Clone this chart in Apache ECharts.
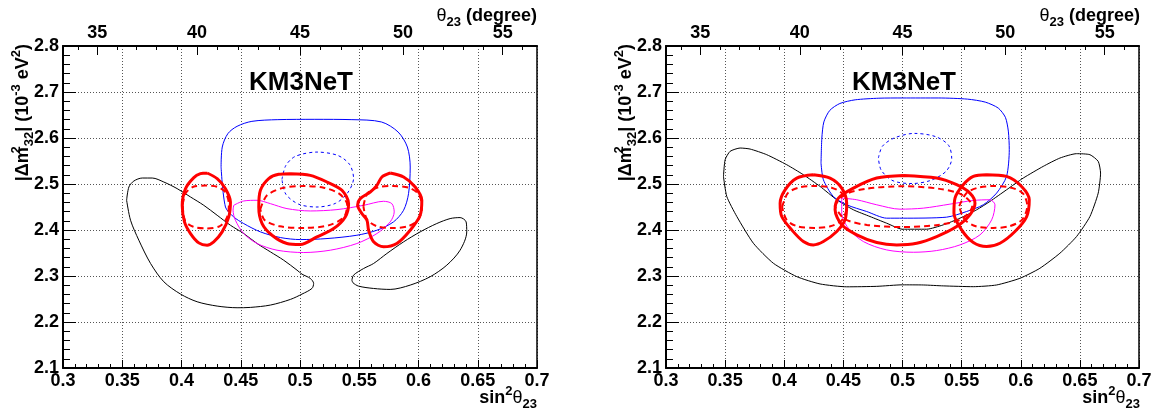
<!DOCTYPE html>
<html><head><meta charset="utf-8">
<script src="https://cdn.jsdelivr.net/npm/echarts@6/dist/echarts.min.js"></script>
<style>html,body{margin:0;padding:0;background:#fff}#c{width:1157px;height:412px}</style>
</head><body><div id="c"></div>
<script>
// ---- axis / tick data ----
const xRange = [0.3, 0.7];
const yRange = [2.1, 2.8];
const thetaMajor = [35, 40, 45, 50, 55];
const thetaMinor = [34, 36, 37, 38, 39, 41, 42, 43, 44, 46, 47, 48, 49, 51, 52, 53, 54, 56];
const panelTitle = 'KM3NeT';

// ---- left panel contours [sin^2 theta23, |dm2_32|] ----
const L_black1 = [[0.3537,2.4646],[0.3556,2.4935],[0.3598,2.5065],[0.3669,2.513],[0.3753,2.513],[0.3851,2.5043],[0.3963,2.49],[0.4076,2.4718],[0.4188,2.4537],[0.4301,2.432],[0.4413,2.4103],[0.4525,2.3923],[0.4638,2.3706],[0.475,2.3525],[0.4862,2.3344],[0.4975,2.3127],[0.5017,2.304],[0.5087,2.2947],[0.5115,2.2838],[0.5101,2.273],[0.5017,2.2607],[0.4919,2.2491],[0.475,2.2368],[0.4581,2.2317],[0.4469,2.231],[0.4301,2.2346],[0.4132,2.244],[0.3992,2.2607],[0.3851,2.2874],[0.3739,2.3272],[0.364,2.3778],[0.357,2.4212]];
const L_black2 = [[0.5438,2.291],[0.5452,2.3019],[0.5537,2.3163],[0.5621,2.3272],[0.5733,2.3489],[0.5874,2.3742],[0.6014,2.3959],[0.6154,2.414],[0.6267,2.4248],[0.6351,2.427],[0.6402,2.4176],[0.6407,2.3959],[0.6351,2.3561],[0.6239,2.3236],[0.6098,2.2983],[0.593,2.2802],[0.5761,2.2708],[0.5621,2.2729],[0.5494,2.278],[0.5447,2.2853]];
const L_blue = [[0.4334,2.537],[0.4344,2.5804],[0.4391,2.6094],[0.4469,2.6254],[0.4594,2.6362],[0.4813,2.6399],[0.5125,2.6406],[0.5438,2.6399],[0.5688,2.6348],[0.5828,2.613],[0.5906,2.5804],[0.593,2.5369],[0.5916,2.479],[0.5874,2.4429],[0.5789,2.4176],[0.5649,2.3995],[0.548,2.3886],[0.5228,2.3814],[0.5003,2.3792],[0.4834,2.3836],[0.4666,2.3959],[0.4525,2.414],[0.4441,2.4284],[0.4371,2.45]];
const L_blueDash = [[0.4848,2.510],[0.4880,2.540],[0.4960,2.560],[0.5143,2.5694],[0.5320,2.562],[0.5420,2.542],[0.5452,2.512],[0.5400,2.480],[0.5300,2.458],[0.5143,2.450],[0.4990,2.456],[0.4880,2.478]];
const L_magenta = [[0.4441,2.4537],[0.4525,2.4631],[0.4638,2.4646],[0.475,2.4573],[0.489,2.4465],[0.5087,2.4414],[0.5312,2.4443],[0.5537,2.4537],[0.5705,2.4624],[0.5775,2.4573],[0.5795,2.4393],[0.5761,2.4176],[0.5649,2.3923],[0.548,2.3706],[0.5256,2.3561],[0.5031,2.351],[0.4806,2.3561],[0.4638,2.3706],[0.4525,2.3923],[0.4455,2.4212],[0.4435,2.443]];
const L_red1 = [[0.4216,2.5239],[0.4301,2.5116],[0.4371,2.4899],[0.4413,2.461],[0.4399,2.4284],[0.4343,2.3959],[0.4272,2.3742],[0.4216,2.367],[0.4146,2.372],[0.4076,2.3923],[0.4025,2.4176],[0.4006,2.4537],[0.4034,2.4899],[0.4104,2.5138],[0.416,2.5224]];
const L_red2 = [[0.4919,2.5224],[0.5087,2.5188],[0.5228,2.5043],[0.5354,2.4863],[0.541,2.4573],[0.5382,2.4284],[0.5284,2.4031],[0.5143,2.385],[0.5003,2.3684],[0.489,2.3706],[0.4764,2.3886],[0.468,2.414],[0.4652,2.4501],[0.4666,2.4863],[0.4736,2.5116],[0.482,2.521]];
const L_red3 = [[0.5761,2.5239],[0.5874,2.5152],[0.5972,2.4935],[0.6028,2.4646],[0.6014,2.432],[0.593,2.3995],[0.5817,2.3706],[0.5705,2.3634],[0.5621,2.3742],[0.5579,2.3995],[0.5565,2.4212],[0.5522,2.4357],[0.5486,2.4537],[0.5508,2.4682],[0.5593,2.4826],[0.5649,2.4971],[0.5691,2.5152]];
const L_redDash1 = [[0.4010,2.455],[0.4035,2.480],[0.4100,2.494],[0.4200,2.4965],[0.4300,2.494],[0.4370,2.482],[0.4400,2.455],[0.4380,2.425],[0.4320,2.408],[0.4210,2.4035],[0.4100,2.407],[0.4030,2.420]];
const L_redDash2 = [[0.4665,2.445],[0.4720,2.475],[0.4850,2.491],[0.5030,2.4955],[0.5200,2.492],[0.5330,2.479],[0.5398,2.455],[0.5370,2.428],[0.5240,2.410],[0.5030,2.4045],[0.4830,2.408],[0.4700,2.422]];
const L_redDash3 = [[0.5535,2.452],[0.5570,2.480],[0.5660,2.493],[0.5785,2.4955],[0.5920,2.492],[0.6000,2.478],[0.6030,2.452],[0.6000,2.423],[0.5910,2.408],[0.5785,2.4045],[0.5650,2.408],[0.5565,2.423]];

// ---- right panel contours ----
const R_black = [[0.3486,2.5165],[0.35,2.5528],[0.3542,2.571],[0.3627,2.5782],[0.3711,2.576],[0.3852,2.5637],[0.4021,2.5419],[0.4162,2.5201],[0.4303,2.4947],[0.4444,2.4657],[0.4585,2.4439],[0.4725,2.4293],[0.4866,2.4148],[0.4999,2.4017],[0.5204,2.4017],[0.5345,2.4112],[0.5486,2.4257],[0.5627,2.4439],[0.5739,2.462],[0.588,2.4874],[0.6021,2.5129],[0.619,2.5383],[0.6331,2.5564],[0.6472,2.5659],[0.6585,2.5637],[0.6655,2.5492],[0.6675,2.5238],[0.6655,2.4802],[0.6585,2.4293],[0.6472,2.3858],[0.6331,2.3495],[0.6162,2.3168],[0.5993,2.295],[0.5796,2.2805],[0.5599,2.2768],[0.5345,2.2785],[0.5176,2.2805],[0.4999,2.2808],[0.4782,2.2775],[0.4528,2.2765],[0.4303,2.2827],[0.4106,2.2986],[0.3908,2.3277],[0.3739,2.3712],[0.3599,2.4293],[0.3514,2.4729]];
const R_blue = [[0.4311,2.5455],[0.4318,2.600],[0.4335,2.635],[0.4385,2.660],[0.4470,2.675],[0.4600,2.683],[0.4800,2.6865],[0.5000,2.687],[0.5307,2.687],[0.5550,2.6845],[0.5700,2.678],[0.5810,2.665],[0.5870,2.645],[0.5895,2.615],[0.5903,2.575],[0.5880,2.5165],[0.5796,2.4802],[0.5683,2.4548],[0.5542,2.4402],[0.5373,2.4279],[0.5007,2.4257],[0.4866,2.4257],[0.4697,2.4402],[0.4528,2.4548],[0.4415,2.4729],[0.4331,2.5092]];
const R_blueDash = [[0.4796,2.5564],[0.4830,2.582],[0.4930,2.600],[0.5100,2.6100],[0.5280,2.603],[0.5390,2.584],[0.5416,2.5555],[0.5370,2.528],[0.5240,2.508],[0.5080,2.501],[0.4920,2.507],[0.4820,2.530]];
const R_magenta = [[0.4486,2.4693],[0.4613,2.4657],[0.4782,2.4548],[0.4979,2.4453],[0.5176,2.4475],[0.5401,2.4562],[0.5599,2.4642],[0.5739,2.4657],[0.5782,2.4548],[0.5754,2.4221],[0.5655,2.3894],[0.5486,2.3676],[0.5289,2.3553],[0.5092,2.3516],[0.4866,2.3567],[0.4669,2.3749],[0.4542,2.4039],[0.4486,2.4366]];
const R_red1 = [[0.4246,2.5201],[0.4387,2.5129],[0.4486,2.4911],[0.4528,2.4584],[0.4514,2.4221],[0.4444,2.3967],[0.4331,2.3749],[0.4246,2.3676],[0.4162,2.3749],[0.4063,2.4003],[0.3979,2.4293],[0.3965,2.4584],[0.4007,2.4874],[0.4106,2.5129]];
const R_red2 = [[0.5007,2.5187],[0.5289,2.5129],[0.5458,2.4984],[0.557,2.4802],[0.5613,2.4584],[0.557,2.433],[0.5458,2.4075],[0.5289,2.3858],[0.512,2.3712],[0.4951,2.3676],[0.4782,2.3727],[0.4613,2.3894],[0.4486,2.4112],[0.443,2.4439],[0.4458,2.4693],[0.4585,2.4911],[0.4782,2.5129]];
const R_red3 = [[0.5711,2.5201],[0.588,2.5165],[0.6007,2.4947],[0.6072,2.4657],[0.605,2.4293],[0.5951,2.3967],[0.5824,2.3712],[0.5711,2.364],[0.5599,2.3727],[0.55,2.4003],[0.5435,2.4366],[0.5444,2.4693],[0.5514,2.4984],[0.5599,2.5165]];
const R_redDash1 = [[0.3982,2.450],[0.4030,2.480],[0.4120,2.492],[0.4255,2.4955],[0.4400,2.492],[0.4490,2.479],[0.4530,2.452],[0.4490,2.422],[0.4390,2.408],[0.4255,2.4045],[0.4110,2.408],[0.4020,2.422]];
const R_redDash2 = [[0.4425,2.452],[0.4510,2.477],[0.4700,2.490],[0.5005,2.495],[0.5300,2.490],[0.5500,2.477],[0.5590,2.452],[0.5500,2.424],[0.5300,2.411],[0.5005,2.4065],[0.4700,2.411],[0.4510,2.424]];
const R_redDash3 = [[0.5480,2.452],[0.5540,2.480],[0.5640,2.492],[0.5765,2.4955],[0.5920,2.492],[0.6020,2.479],[0.6055,2.452],[0.6010,2.422],[0.5900,2.408],[0.5765,2.4045],[0.5620,2.408],[0.5520,2.424]];

const FONT = 'Liberation Sans, Arial, Helvetica, sans-serif';
const s2 = d => Math.pow(Math.sin(d * Math.PI / 180), 2);
const toDeg = v => Math.round(Math.asin(Math.sqrt(v)) * 180 / Math.PI);

const grids = [
  {left: 63, top: 46, width: 474, height: 322},
  {left: 666, top: 46, width: 473, height: 322}
];

const xAxes = [], yAxes = [];
grids.forEach((g, gi) => {
  xAxes.push({
    type: 'value', gridIndex: gi, position: 'bottom', min: xRange[0], max: xRange[1], interval: 0.05,
    axisLine: {show: true, onZero: false, lineStyle: {color: '#000', width: 2}},
    axisTick: {show: true, inside: true, length: 8, lineStyle: {color: '#000', width: 1}},
    minorTick: {show: true, splitNumber: 5, length: 4, lineStyle: {color: '#000', width: 1}},
    axisLabel: {show: true, interval: 0, showMinLabel: true, showMaxLabel: true, margin: 4,
      fontSize: 18, fontWeight: 'bold', fontFamily: FONT, color: '#000',
      formatter: v => String(+v.toFixed(2))},
    splitLine: {show: true, lineStyle: {color: '#555', width: 1, type: [1, 2]}}
  });
  xAxes.push({
    type: 'value', gridIndex: gi, position: 'top', min: xRange[0], max: xRange[1],
    axisLine: {show: true, onZero: false, lineStyle: {color: '#000', width: 2}},
    axisTick: {show: true, inside: true, length: 9, customValues: thetaMajor.map(s2), lineStyle: {color: '#000', width: 1}},
    axisLabel: {show: true, customValues: thetaMajor.map(s2), margin: 4,
      fontSize: 18, fontWeight: 'bold', fontFamily: FONT, color: '#000',
      formatter: v => String(toDeg(v))},
    splitLine: {show: false}
  });
  xAxes.push({
    type: 'value', gridIndex: gi, position: 'top', min: xRange[0], max: xRange[1],
    axisLine: {show: false},
    axisTick: {show: true, inside: true, length: 4, customValues: thetaMinor.map(s2), lineStyle: {color: '#000', width: 1}},
    axisLabel: {show: false},
    splitLine: {show: false}
  });
  yAxes.push({
    type: 'value', gridIndex: gi, position: 'left', min: yRange[0], max: yRange[1], interval: 0.1,
    axisLine: {show: true, onZero: false, lineStyle: {color: '#000', width: 2}},
    axisTick: {show: true, inside: true, length: 13, lineStyle: {color: '#000', width: 1}},
    minorTick: {show: true, splitNumber: 5, length: 7, lineStyle: {color: '#000', width: 1}},
    axisLabel: {show: true, showMinLabel: true, showMaxLabel: true, margin: 4,
      fontSize: 18, fontWeight: 'bold', fontFamily: FONT, color: '#000',
      formatter: v => v.toFixed(1)},
    splitLine: {show: true, lineStyle: {color: '#555', width: 1, type: [1, 2]}}
  });
  yAxes.push({
    type: 'value', gridIndex: gi, position: 'right', min: yRange[0], max: yRange[1],
    axisLine: {show: true, onZero: false, lineStyle: {color: '#000', width: 1.5}},
    axisTick: {show: false}, axisLabel: {show: false}, splitLine: {show: false}
  });
});

function loop(pts) { return pts.concat([pts[0]]); }
function mk(pts, gi, color, width, type, smooth) {
  return {
    type: 'line', xAxisIndex: gi * 3, yAxisIndex: gi * 2, data: loop(pts),
    symbol: 'none', showSymbol: false, smooth: smooth == null ? 0.3 : smooth,
    lineStyle: {color: color, width: width, type: type || 'solid'},
    silent: true, animation: false, z: 3
  };
}
const BLK = '#000', BLU = '#0000ff', MAG = '#ff00ff', RED = '#ff0000';
const series = [
  mk(L_black1, 0, BLK, 1), mk(L_black2, 0, BLK, 1),
  mk(L_blue, 0, BLU, 1), mk(L_blueDash, 0, BLU, 1, [3, 3]),
  mk(L_magenta, 0, MAG, 1),
  mk(L_red1, 0, RED, 3), mk(L_red2, 0, RED, 3), mk(L_red3, 0, RED, 3),
  mk(L_redDash1, 0, RED, 2, [6, 4]), mk(L_redDash2, 0, RED, 2, [6, 4]), mk(L_redDash3, 0, RED, 2, [6, 4]),
  mk(R_black, 1, BLK, 1, 'solid', 0.2),
  mk(R_blue, 1, BLU, 1, 'solid', 0.25), mk(R_blueDash, 1, BLU, 1, [3, 3]),
  mk(R_magenta, 1, MAG, 1),
  mk(R_red1, 1, RED, 3), mk(R_red2, 1, RED, 3), mk(R_red3, 1, RED, 3),
  mk(R_redDash1, 1, RED, 2, [6, 4]), mk(R_redDash2, 1, RED, 2, [6, 4]), mk(R_redDash3, 1, RED, 2, [6, 4])
];

const rich = {
  n: {fontSize: 18, fontWeight: 'bold', fontFamily: FONT, color: '#000', lineHeight: 26},
  g: {fontSize: 18, fontWeight: 'normal', fontFamily: FONT, color: '#000', lineHeight: 26},
  sp: {fontSize: 13, fontWeight: 'bold', fontFamily: FONT, color: '#000', lineHeight: 14, verticalAlign: 'top'},
  sp0: {fontSize: 13, fontWeight: 'bold', fontFamily: FONT, color: '#000', lineHeight: 14, verticalAlign: 'top', width: 1},
  sb: {fontSize: 13, fontWeight: 'bold', fontFamily: FONT, color: '#000', lineHeight: 14, verticalAlign: 'bottom'}
};
const graphics = [];
[0, 603].forEach(dx => {
  graphics.push({
    type: 'text', x: 23 + dx, y: 44, rotation: Math.PI / 2, silent: true,
    style: {text: '{n||Δm}{sp0|2}{sb|32}{n|| (10}{sp|-3}{n| eV}{sp|2}{n|)}', rich: rich, align: 'right', verticalAlign: 'middle'}
  });
  graphics.push({
    type: 'text', x: 537 + dx, y: 16, silent: true,
    style: {text: '{g|θ}{sb|23}{n| (degree)}', rich: rich, align: 'right', verticalAlign: 'middle'}
  });
  graphics.push({
    type: 'text', x: 537 + dx, y: 398, silent: true,
    style: {text: '{n|sin}{sp|2}{g|θ}{sb|23}', rich: rich, align: 'right', verticalAlign: 'middle'}
  });
  graphics.push({
    type: 'text', x: 301 + dx, y: 83, silent: true,
    style: {text: panelTitle, font: 'bold 26px ' + FONT, fill: '#000', align: 'center', verticalAlign: 'middle'}
  });
});

const chart = echarts.init(document.getElementById('c'), null, {renderer: 'canvas'});
chart.setOption({
  animation: false,
  backgroundColor: '#fff',
  grid: grids,
  xAxis: xAxes,
  yAxis: yAxes,
  series: series,
  graphic: graphics
});
</script></body></html>
